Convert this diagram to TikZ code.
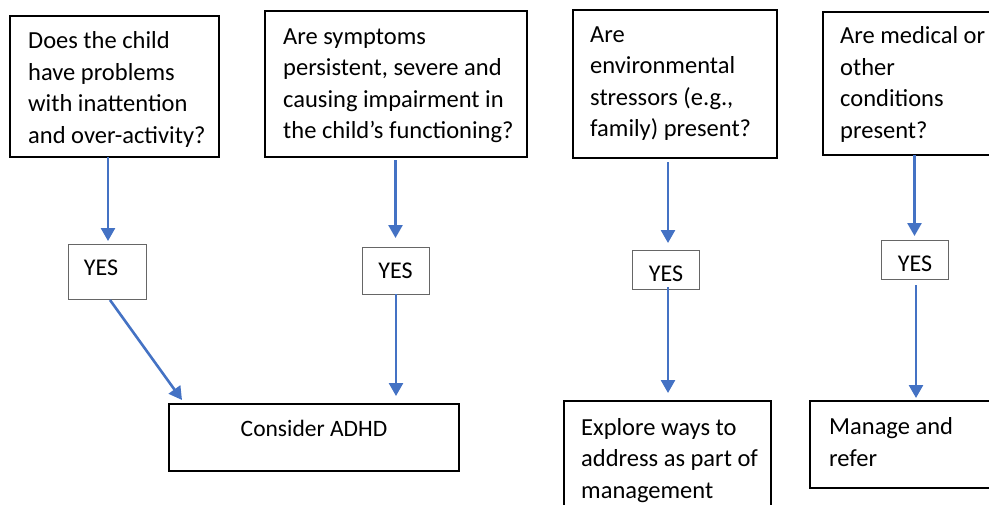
\documentclass[tikz,border=0pt]{standalone}
\usepackage{fontspec}
\setmainfont{Carlito}
\usetikzlibrary{arrows.meta}
\definecolor{arrblue}{HTML}{4472C4}
\begin{document}
\begin{tikzpicture}[x=1pt,y=-1pt,
 qbox/.style={draw=black, line width=1.5pt, anchor=north west, inner sep=0pt, outer sep=0pt},
 ybox/.style={draw=black!60, line width=1pt, anchor=north west, inner sep=0pt, outer sep=0pt},
 txt/.style={font=\fontsize{24.5}{31.5}\selectfont, align=left, inner sep=0pt, anchor=north west},
 ytxt/.style={font=\fontsize{24}{29}\selectfont, inner sep=0pt, anchor=base},
 arr/.style={draw=arrblue, line width=2.6pt, -{Triangle[width=14pt,length=13pt]}}]
\clip (0,0) rectangle (989,504);
\fill[white] (0,0) rectangle (989,504);

% question boxes
\node[qbox, minimum width=209pt, minimum height=141pt] (q1) at (10,16) {};
\node[qbox, minimum width=262pt, minimum height=146pt] (q2) at (265,11) {};
\node[qbox, minimum width=204pt, minimum height=148pt] (q3) at (573,10) {};
\node[qbox, minimum width=180pt, minimum height=143pt] (q4) at (823,12) {};

\node[txt] (q1t) at (28,28.5) {\rule{0pt}{20pt}Does the child\\have problems\\with inattention\\and over-activity?};
\node[txt] (q2t) at (283,24) {\rule{0pt}{20pt}Are symptoms\\persistent, severe and\\causing impairment in\\the child’s functioning?};
\node[txt] (q3t) at (590,22) {\rule{0pt}{20pt}Are\\environmental\\stressors (e.g.,\\family) present?};
\node[txt] (q4t) at (840,23.5) {\rule{0pt}{20pt}Are medical or\\other\\conditions\\present?};

% YES boxes
\node[ybox, minimum width=78pt, minimum height=55pt] (y1) at (68,244) {};
\node[ybox, minimum width=67pt, minimum height=47pt] (y2) at (362,247) {};
\node[ybox, minimum width=67pt, minimum height=39pt] (y3) at (632,250) {};
\node[ybox, minimum width=67pt, minimum height=39pt] (y4) at (881,240) {};
\node[ytxt] (y1t) at (101,275) {YES};
\node[ytxt] (y2t) at (395.5,278) {YES};
\node[ytxt] (y3t) at (666,281) {YES};
\node[ytxt] (y4t) at (915,271) {YES};

% result boxes
\node[qbox, minimum width=290pt, minimum height=67pt] (adhd) at (169,404) {};
\node[qbox, minimum width=207pt, minimum height=120pt] (expl) at (564,401) {};
\node[qbox, minimum width=190pt, minimum height=87pt] (mng) at (810,401) {};

\node[ytxt, font=\fontsize{23.5}{29}\selectfont] (adhdt) at (314,436.5) {Consider ADHD};
\node[txt] (explt) at (581,415) {\rule{0pt}{20pt}Explore ways to\\address as part of\\management};
\node[txt] (mngt) at (829,414.5) {\rule{0pt}{20pt}Manage and\\refer};

% connectors
\draw[arr, shorten >=3pt] ([xshift=1pt]y1.north |- q1.south) -- ([xshift=1pt]y1.north);
\draw[arr, shorten <=3pt, shorten >=9pt] (y2.north |- q2.south) -- (y2.north);
\draw[arr, shorten <=4pt, shorten >=7pt] ([xshift=2.5pt]y3.north |- q3.south) -- ([xshift=2.5pt]y3.north);
\draw[arr, shorten >=4pt] (y4.north |- q4.south) -- (y4.north);

\draw[arr] ([xshift=3pt,yshift=-1pt]y1.south) -- ([xshift=13pt,yshift=4pt]adhd.north west);
\draw[arr, shorten >=8pt] ([xshift=0.5pt]y2.south) -- ([xshift=0.5pt]y2.south |- adhd.north);
\draw[arr, shorten <=-2pt, shorten >=8pt] ([xshift=2.5pt]y3.south) -- ([xshift=2.5pt]y3.south |- expl.north);
\draw[arr, shorten <=6pt, shorten >=3pt] ([xshift=1.5pt]y4.south) -- ([xshift=1.5pt]y4.south |- mng.north);
\end{tikzpicture}
\end{document}
